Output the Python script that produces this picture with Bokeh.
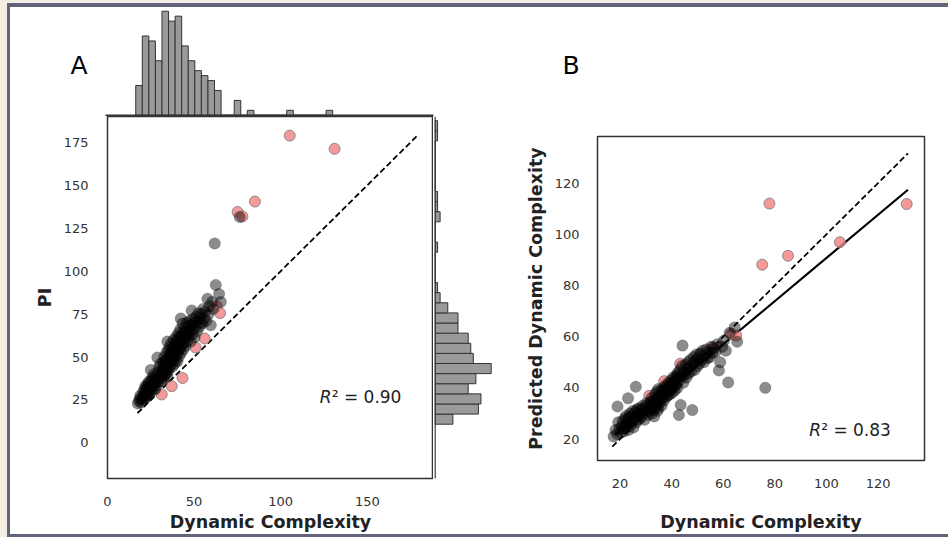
import numpy as np
from bokeh.plotting import figure
from bokeh.layouts import row, column
from bokeh.models import Range1d, Span, Label
from bokeh.embed import file_html
from bokeh.resources import INLINE

# ---------------- data ----------------
gray_dc = [17.5, 18.2, 18.8, 19.3, 19.0, 19.8,
           20.3, 20.6, 21.0, 21.3, 21.5, 21.8, 22.0, 22.3, 22.5, 22.8, 23.1, 23.0, 23.3, 23.5, 23.7, 23.9,
           24.2, 24.4, 24.7, 25.0, 25.2, 25.5, 25.8, 26.1, 26.3, 26.6, 26.8, 27.0, 27.3, 27.5, 27.8,
           28.2, 28.5, 28.8, 29.1, 29.5, 29.8, 30.2, 30.5, 30.9, 31.2,
           31.6, 31.8, 32.0, 32.2, 32.4, 32.6, 32.8, 33.0, 33.2, 33.4, 33.6, 33.8, 34.0, 34.1, 34.3, 34.5,
           34.6, 34.7, 34.8, 34.9, 35.0,
           35.3, 35.5, 35.7, 35.9, 36.1, 36.4, 36.6, 36.8, 37.0, 37.3, 37.5, 37.7, 38.0, 38.2, 38.4, 38.6,
           38.8, 39.0,
           39.2, 39.4, 39.6, 39.8, 40.0, 40.2, 40.4, 40.6, 40.8, 41.0, 41.2, 41.4, 41.6, 41.8, 42.0, 42.2,
           42.3, 42.5, 42.8, 43.0,
           43.3, 43.5, 43.8, 44.0, 44.2, 44.5, 44.8, 45.1, 45.4, 45.7, 46.0, 46.3, 46.6,
           47.0, 47.3, 47.6, 48.0, 48.3, 48.6, 48.9, 49.2, 49.6, 50.0, 50.3,
           50.8, 51.2, 51.6, 52.0, 52.5, 53.0, 53.4, 53.8,
           54.3, 54.8, 55.3, 55.8, 56.4, 57.0, 57.7,
           58.3, 58.8, 59.6, 60.3, 61.0, 61.9,
           62.5, 64.4, 65.4,
           76.3]
gray_pi = [23.0, 24.5, 26.0, 23.5, 27.5, 25.0,
           27.0, 29.5, 25.5, 31.0, 28.0, 33.0, 26.5, 30.0, 32.5, 28.5, 34.0, 27.0, 31.5, 29.0, 35.5, 30.5,
           32.0, 28.5, 36.0, 42.5, 30.5, 34.0, 38.0, 31.5, 36.5, 33.0, 40.0, 35.0, 31.0, 38.5, 34.5,
           37.0, 33.5, 49.7, 41.0, 35.5, 44.0, 38.0, 46.0, 40.5, 36.0,
           43.0, 39.0, 47.0, 41.5, 37.5, 45.0, 50.0, 42.0, 39.5, 48.0, 44.5, 40.5, 52.5, 46.5, 43.0, 38.5,
           59.0, 49.0, 45.5, 41.5, 54.0,
           47.0, 43.0, 51.0, 56.0, 45.0, 49.5, 53.0, 58.0, 47.5, 51.5, 44.5, 55.0, 49.0, 60.0, 52.5, 46.0,
           57.0, 50.5,
           54.0, 48.0, 58.5, 62.0, 51.5, 56.0, 47.5, 60.5, 53.5, 64.0, 57.5, 50.5, 61.5, 55.0, 66.0, 59.0,
           72.4, 52.5, 62.5, 57.0,
           69.5, 60.0, 54.5, 64.5, 58.0, 67.0, 61.5, 56.5, 65.0, 70.0, 59.5, 63.0, 68.0,
           62.0, 71.0, 65.5, 59.0, 68.5, 77.1, 63.0, 72.0, 66.0, 70.0, 61.5,
           68.0, 73.5, 65.0, 71.0, 75.5, 67.5, 73.0, 70.0,
           75.0, 69.5, 78.0, 72.5, 76.5, 71.0, 83.9,
           75.0, 79.5, 68.5, 82.0, 78.0, 116.1,
           91.9, 86.7, 82.0,
           131.5]
gray_pred = [21.0, 23.5, 22.0, 26.5, 32.7, 24.0,
             22.5, 25.0, 27.0, 24.0, 23.0, 28.0, 25.5, 29.0, 24.5, 26.0, 35.9, 27.5, 23.5, 28.5, 26.5, 30.0,
             25.5, 29.0, 27.0, 31.0, 24.5, 28.0, 30.5, 40.4, 26.5, 31.5, 29.0, 27.5, 32.0, 30.0, 28.0,
             31.5, 29.0, 33.0, 30.5, 27.5, 32.5, 34.0, 31.0, 29.5, 33.5,
             31.0, 34.5, 32.0, 36.0, 30.0, 33.5, 35.0, 31.5, 28.8, 34.0, 37.5, 32.5, 35.5, 33.0, 38.5, 31.0,
             36.0, 34.5, 39.5, 32.0, 36.5,
             34.0, 37.0, 35.5, 39.0, 33.0, 38.0, 36.0, 40.0, 35.0, 39.0, 37.5, 41.0, 36.5, 38.5, 40.5, 37.0,
             42.0, 39.0,
             37.5, 41.0, 39.5, 43.0, 40.0, 38.0, 42.0, 44.0, 40.5, 42.5, 39.0, 43.5, 41.0, 45.0, 42.0, 40.0,
             44.5, 46.0, 29.4, 43.0,
             47.0, 33.3, 44.5, 48.5, 56.5, 42.0, 46.0, 45.0, 49.0, 44.0, 47.5, 50.0, 45.5,
             48.0, 51.0, 46.5, 31.3, 49.5, 52.0, 47.0, 50.5, 53.0, 48.5, 51.5,
             49.5, 53.5, 51.0, 54.5, 50.0, 52.5, 55.0, 51.5,
             54.0, 52.0, 56.0, 53.5, 55.5, 54.0, 57.0,
             46.8, 50.0, 56.0, 58.5, 54.5, 42.1,
             61.5, 63.6, 58.0,
             40.0]

red_dc = [105.2, 131.1, 85.1, 75.1, 77.9, 63.0, 65.0, 56.1, 50.9, 43.3, 37.1, 31.3]
red_pi = [178.9, 171.2, 140.5, 134.4, 131.8, 79.7, 75.6, 60.8, 55.5, 37.8, 33.0, 28.2]
red_pred = [96.9, 111.8, 91.6, 88.1, 112.0, 61.0, 60.4, 55.9, 52.9, 49.4, 42.6, 36.9]

# marginal histograms (counts per bin)
top_hist_start, top_hist_width = 16.3, 3.79
top_counts = [6, 16, 15, 11, 21, 19, 20, 14, 11, 9, 8, 7, 5, 0, 0,
              3, 0, 1, 0, 0, 0, 0, 0, 1, 0, 0, 0, 0, 0, 1]
right_hist_start, right_hist_width = 10.9, 5.89
right_counts = [7, 17, 18, 13, 16, 22, 15, 14, 13, 9, 9, 5, 2, 1, 0,
                0, 0, 1, 0, 0, 2, 1, 1, 0, 0, 0, 0, 0, 1, 1]

identity_a = [17.3, 179.5]
identity_b = [17.0, 131.6]
fit_b_x = [18.1, 131.6]
fit_b_y = [21.7, 117.4]

xticks_a = [0, 50, 100, 150]
yticks_a = [0, 25, 50, 75, 100, 125, 150, 175]
ticks_b = [20, 40, 60, 80, 100, 120]

r2_a = "0.90"
r2_b = "0.83"
panel_a = "A"
panel_b = "B"

# ---------------- styling ----------------
FONT = "DejaVu Sans"
TICK_C = "#333333"
LAB_C = "#222222"
GRAY_FILL = "#9a9a9a"
RED_FILL = "#f08080"
FRAME_C = "#62637b"

TOTAL_W = 938
A_LEFT = 97          # px between panel edge and plot A frame
A_FRAME_W = 326
HR_W = 65            # right marginal width
XA_START, XA_END = 0.0, 188.2
PX_PER_X = A_FRAME_W / (XA_END - XA_START)
A_LABEL_PX = 60      # left of the "A" letter, from panel edge
B_LABEL_PX = 552     # left of the "B" letter, from panel edge


def style_main(p):
    p.grid.visible = False
    p.outline_line_color = "#333333"
    p.outline_line_width = 1.5
    for ax in p.axis:
        ax.axis_line_color = None
        ax.major_tick_line_color = None
        ax.minor_tick_line_color = None
        ax.major_label_text_font = FONT
        ax.major_label_text_font_size = "13px"
        ax.major_label_text_color = TICK_C
        ax.axis_label_text_font = FONT
        ax.axis_label_text_font_style = "bold"
        ax.axis_label_text_font_size = "17.5px"
        ax.axis_label_text_color = LAB_C


def scatter_points(p, xs_g, ys_g, xs_r, ys_r):
    p.scatter(xs_r, ys_r, size=11, fill_color=RED_FILL, fill_alpha=0.8,
              line_color="#7a7a7a", line_alpha=0.8, line_width=1)
    p.scatter(xs_g, ys_g, size=11.5, fill_color="black", fill_alpha=0.45,
              line_color="black", line_alpha=0.15, line_width=1)


def r2_label(p, x, y, val):
    p.add_layout(Label(x=x, y=y, text="R", text_font=FONT, text_font_style="italic",
                       text_font_size="17px", text_color=LAB_C, text_baseline="alphabetic"))
    p.add_layout(Label(x=x, y=y, x_offset=12, text="\u00b2 = " + val, text_font=FONT,
                       text_font_size="17px", text_color=LAB_C, text_baseline="alphabetic"))


def bare(p):
    p.grid.visible = False
    p.outline_line_color = None
    p.min_border_left = p.min_border_right = p.min_border_top = p.min_border_bottom = 0
    p.background_fill_color = None
    p.border_fill_color = None


xA = Range1d(XA_START, XA_END)
yA = Range1d(-20.7, 190)

# ---- header strip: top marginal histogram + panel letters ----
h_start = XA_START - A_LEFT / PX_PER_X
htop = figure(width=TOTAL_W, height=109,
              x_range=Range1d(h_start, h_start + TOTAL_W / PX_PER_X),
              y_range=Range1d(-0.25, 21.75),
              x_axis_location=None, y_axis_location=None, title=None,
              output_backend="svg", toolbar_location=None)
bare(htop)
t_left = [top_hist_start + i * top_hist_width for i in range(len(top_counts))]
t_right = [v + top_hist_width for v in t_left]
htop.quad(left=t_left, right=t_right, bottom=0, top=top_counts,
          fill_color=GRAY_FILL, line_color="#333333", line_width=1)
htop.segment(x0=[XA_START - 2 / PX_PER_X], y0=[0], x1=[XA_END], y1=[0],
             line_color="#333333", line_width=1.5)
htop.add_layout(Label(x=h_start + A_LABEL_PX / PX_PER_X, y=10.0, text=panel_a, text_font=FONT,
                      text_font_size="25px", text_color="black", text_baseline="alphabetic"))
htop.add_layout(Label(x=h_start + B_LABEL_PX / PX_PER_X, y=10.0, text=panel_b, text_font=FONT,
                      text_font_size="25px", text_color="black", text_baseline="alphabetic"))

# ---- main scatter A ----
pa = figure(width=A_LEFT + A_FRAME_W, height=418, x_range=xA, y_range=yA,
            output_backend="svg", toolbar_location=None,
            min_border_left=A_LEFT, min_border_right=0, min_border_top=0, min_border_bottom=52)
style_main(pa)
pa.xaxis.ticker = xticks_a
pa.yaxis.ticker = yticks_a
pa.xaxis.axis_label = "Dynamic Complexity"
pa.yaxis.axis_label = "PI"
pa.xaxis.major_label_standoff = 12
pa.xaxis.axis_label_standoff = 3
pa.yaxis.major_label_standoff = 13
pa.yaxis.axis_label_standoff = 6
pa.line(identity_a, identity_a, line_color="black", line_width=1.8, line_dash="6 3")
scatter_points(pa, gray_dc, gray_pi, red_dc, red_pi)
r2_label(pa, 122.5, 26.9, r2_a)

# ---- right marginal histogram ----
hright = figure(width=HR_W, height=418, x_range=Range1d(-0.2, 23.3), y_range=yA,
                x_axis_location=None, y_axis_location=None, title=None,
                output_backend="svg", toolbar_location=None)
bare(hright)
hright.min_border_left = 1
hright.min_border_right = 4
hright.min_border_bottom = 52
r_bot = [right_hist_start + i * right_hist_width for i in range(len(right_counts))]
r_top = [v + right_hist_width for v in r_bot]
hright.quad(left=0, right=right_counts, bottom=r_bot, top=r_top,
            fill_color=GRAY_FILL, line_color="#333333", line_width=1)
hright.add_layout(Span(location=0, dimension="height", line_color="#333333", line_width=1.5))

# ---- scatter B ----
pb = figure(width=TOTAL_W - (A_LEFT + A_FRAME_W) - HR_W, height=418,
            x_range=Range1d(11.25, 138.0), y_range=Range1d(11.6, 138.2),
            output_backend="svg", toolbar_location=None,
            min_border_left=99, min_border_right=24, min_border_top=20, min_border_bottom=71)
style_main(pb)
pb.xaxis.ticker = ticks_b
pb.yaxis.ticker = ticks_b
pb.xaxis.axis_label = "Dynamic Complexity"
pb.yaxis.axis_label = "Predicted Dynamic Complexity"
pb.xaxis.major_label_standoff = 12
pb.xaxis.axis_label_standoff = 21
pb.yaxis.major_label_standoff = 12
pb.yaxis.axis_label_standoff = 6
pb.line(identity_b, identity_b, line_color="black", line_width=1.8, line_dash="6 3")
pb.line(fit_b_x, fit_b_y, line_color="black", line_width=2.2)
scatter_points(pb, gray_dc, gray_pred, red_dc, red_pred)
r2_label(pb, 93.3, 23.6, r2_b)

# each scatter sits in its own column so Bokeh does not align their frames
lower = row(column(row(pa, hright)), column(pb))
inner = column(htop, lower,
               styles={"border-left": "3px solid " + FRAME_C,
                       "border-top": "4px solid " + FRAME_C,
                       "border-bottom": "3px solid " + FRAME_C,
                       "background-color": "white"})
root = column(inner, styles={"padding": "3px 0 0 7px", "background-color": "#f3eee2"})

open("out.html", "w").write(file_html(root, INLINE))
